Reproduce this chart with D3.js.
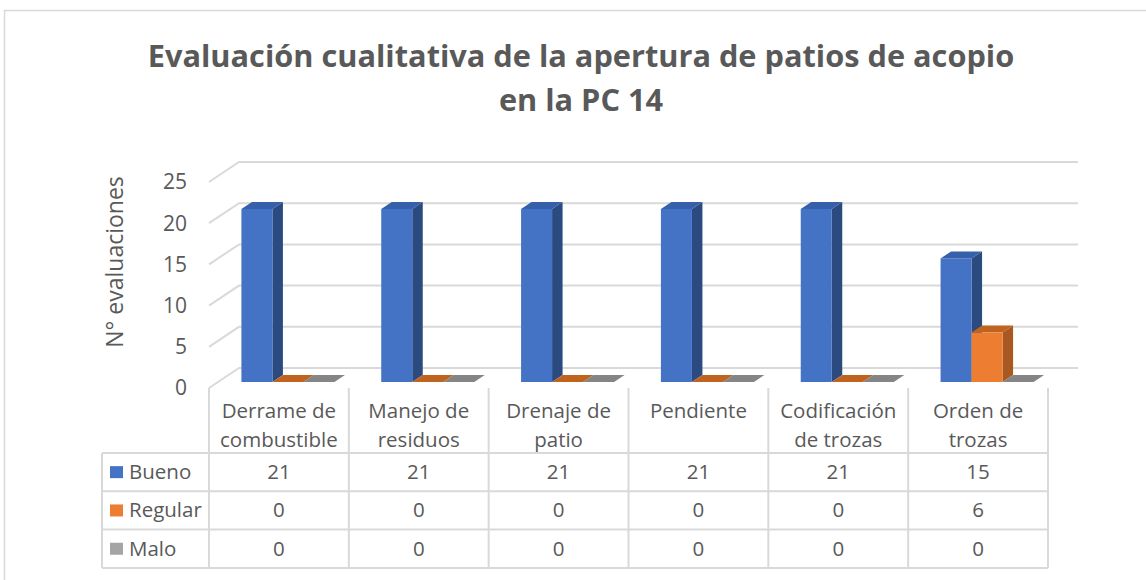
<!DOCTYPE html>
<html>
<head>
<meta charset="utf-8">
<script src="https://cdn.jsdelivr.net/npm/d3@7"></script>
<style>
  body { margin: 0; background: #fff; }
  svg { display: block; font-family: "Segoe UI", "Open Sans", sans-serif; }
</style>
</head>
<body>
<svg id="chart" width="1146" height="580"></svg>
<script>
// chart data
var categories = ["Derrame de\ncombustible", "Manejo de\nresiduos", "Drenaje de\npatio",
                  "Pendiente", "Codificación\nde trozas", "Orden de\ntrozas"];
var seriesNames = ["Bueno", "Regular", "Malo"];
var bueno   = [21, 21, 21, 21, 21, 15];
var regular = [0, 0, 0, 0, 0, 6];
var malo    = [0, 0, 0, 0, 0, 0];
var yTicks  = [0, 5, 10, 15, 20, 25];

var titleLines = ["Evaluación cualitativa de la apertura de patios de acopio", "en la PC 14"];
var yTitle = "N° evaluaciones";

var values = [bueno, regular, malo];
var colors = [
  {front: "#4472C4", side: "#2B4A80", top: "#3660AA"},
  {front: "#ED7D31", side: "#A85820", top: "#C0631F"},
  {front: "#A5A5A5", side: "#6E6E6E", top: "#858585"}
];
var textColor = "#595959";
var gridColor = "#D9D9D9";

var svg = d3.select("#chart");

// outer chart border
svg.append("rect")
    .attr("x", 4.5).attr("y", 10.5)
    .attr("width", 1200).attr("height", 620)
    .attr("fill", "none")
    .attr("stroke", gridColor)
    .attr("stroke-width", 1.5);

// title, fitted to the width it has in the picture
var title = svg.append("g").attr("fill", textColor).attr("font-weight", "bold");
var t1 = title.append("text").attr("x", 581).attr("y", 67).attr("text-anchor", "middle")
    .attr("font-size", 28).text(titleLines[0]);
var fs = 28 * 867 / t1.node().getComputedTextLength();
t1.attr("font-size", fs);
title.append("text").attr("x", 581).attr("y", 111).attr("text-anchor", "middle")
    .attr("font-size", fs).text(titleLines[1]);

// pseudo 3d box
var left = 209, right = 1048;
var depthX = 30, depthY = 20;
var z0 = 0.3, z1 = 0.65;

var y = d3.scaleLinear().domain([0, 25]).range([388, 182]);
var x0 = d3.scaleBand().domain(categories).range([left, right]);
var x1 = d3.scaleBand().domain(seriesNames).range([0, x0.bandwidth()])
    .paddingInner(0).paddingOuter(0.755);

function proj(px, py, z) { return [px + z * depthX, py - z * depthY]; }

var grid = svg.append("g").attr("stroke", gridColor).attr("stroke-width", 2).attr("fill", "none");
yTicks.forEach(function(v) {
  var a = proj(left, y(v), 0), b = proj(left, y(v), 1), c = proj(right, y(v), 1);
  grid.append("polyline").attr("points", [a, b, c].map(function(p) { return p.join(","); }).join(" "));
});

// y tick labels
svg.append("g").selectAll("text").data(yTicks).enter().append("text")
    .attr("x", 187).attr("y", function(d) { return y(d); })
    .attr("dy", "0.35em")
    .attr("text-anchor", "end")
    .attr("font-size", 21)
    .attr("fill", textColor)
    .text(function(d) { return d; });

svg.append("text")
    .attr("transform", "translate(123,262) rotate(-90)")
    .attr("text-anchor", "middle")
    .attr("font-size", 23)
    .attr("fill", textColor)
    .text(yTitle);

// bars
var bars = svg.append("g");
values.forEach(function(vals, s) {
  vals.forEach(function(v, i) {
    var xl = x0(categories[i]) + x1(seriesNames[s]);
    var xr = xl + x1.bandwidth();
    var top = y(v), base = y(0);
    var pts = function(arr) { return arr.map(function(p) { return p.join(","); }).join(" "); };
    if (v > 0) {
      bars.append("polygon").attr("fill", colors[s].side)
          .attr("points", pts([proj(xr, top, z0), proj(xr, top, z1), proj(xr, base, z1), proj(xr, base, z0)]));
    }
    bars.append("polygon").attr("fill", colors[s].top)
        .attr("points", pts([proj(xl, top, z0), proj(xr, top, z0), proj(xr, top, z1), proj(xl, top, z1)]));
    if (v > 0) {
      var f = proj(xl, top, z0);
      bars.append("rect").attr("fill", colors[s].front)
          .attr("x", f[0]).attr("y", f[1])
          .attr("width", x1.bandwidth()).attr("height", base - top);
    }
  });
});

// data table
var rowTop = 453, rowH = 38.3, tableLeft = 102;
var tbl = svg.append("g").attr("stroke", gridColor).attr("stroke-width", 2);
for (var r = 0; r <= seriesNames.length; r++) {
  tbl.append("line").attr("x1", tableLeft).attr("x2", right)
      .attr("y1", rowTop + r * rowH).attr("y2", rowTop + r * rowH);
}
tbl.append("line").attr("x1", tableLeft).attr("x2", tableLeft)
    .attr("y1", rowTop).attr("y2", rowTop + 3 * rowH);
categories.concat([null]).forEach(function(c, i) {
  var xx = c ? x0(c) : right;
  tbl.append("line").attr("x1", xx).attr("x2", xx)
      .attr("y1", 388).attr("y2", rowTop + 3 * rowH);
});

// category headers
var heads = svg.append("g").attr("fill", textColor).attr("font-size", 20.5).attr("text-anchor", "middle");
categories.forEach(function(c) {
  var t = heads.append("text").attr("x", x0(c) + x0.bandwidth() / 2).attr("y", 418);
  c.split("\n").forEach(function(line, k) {
    t.append("tspan").attr("x", x0(c) + x0.bandwidth() / 2).attr("dy", k ? 28.5 : 0).text(line);
  });
});

// legend keys and values
var cells = svg.append("g").attr("fill", textColor).attr("font-size", 20.5);
seriesNames.forEach(function(name, s) {
  var cy = rowTop + s * rowH + rowH / 2;
  cells.append("rect").attr("x", 110).attr("y", cy - 6).attr("width", 13).attr("height", 12)
      .attr("fill", colors[s].front);
  cells.append("text").attr("x", 129).attr("y", cy + 7).text(name);
  values[s].forEach(function(v, i) {
    cells.append("text").attr("x", x0(categories[i]) + x0.bandwidth() / 2).attr("y", cy + 7)
        .attr("text-anchor", "middle").text(v);
  });
});
</script>
</body>
</html>
